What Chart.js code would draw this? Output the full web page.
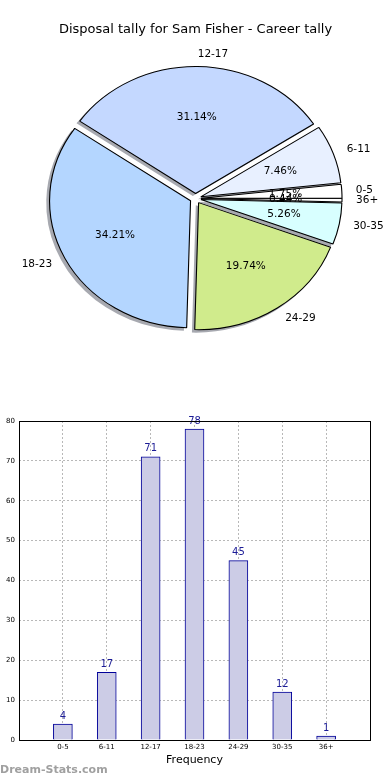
<!DOCTYPE html>
<html lang="en">
<head>
    <meta charset="UTF-8">
    <title>Disposal tally for Sam Fisher</title>
    <style>
        body { margin: 0; background: #fff; width: 390px; height: 780px; position: relative; overflow: hidden; }
        #pieChart { position: absolute; left: 0; top: 0; }
        #barChart { position: absolute; left: 0; top: 400px; }
        .watermark { position: absolute; left: 0; top: 763px; font: bold 11px 'DejaVu Sans', sans-serif; color: #a0a0a0; }
    </style>
</head>
<body>
    <canvas id="pieChart" width="390" height="400"></canvas>
    <canvas id="barChart" width="390" height="380"></canvas>
    <div class="watermark">Dream-Stats.com</div>

    <script src="https://cdn.jsdelivr.net/npm/chart.js"></script>
    <script>
        // data
        const categories = ['0-5', '6-11', '12-17', '18-23', '24-29', '30-35', '36+'];
        const tally = [4, 17, 71, 78, 45, 12, 1];
        const sliceColors = ['#ffffff', '#e8f0ff', '#c4d8ff', '#b4d6ff', '#d0eb8c', '#d8ffff', '#ffffff'];

        Chart.defaults.font.family = "'DejaVu Sans', sans-serif";
        Chart.defaults.color = '#000';

        const total = tally.reduce((a, b) => a + b, 0);

        // matplotlib pie goes counter clockwise from east, chart.js clockwise -> reverse
        const pieLabels = categories.slice().reverse();
        const pieValues = tally.slice().reverse();
        const pieColors = sliceColors.slice().reverse();

        const EXPLODE = 5;     // wedge explode distance
        const STRETCH = 1.11;  // pie is an ellipse (axes not equal)
        const SHADOW = 2.5;

        const mplPie = {
            id: 'mplPie',
            beforeDatasetsDraw(chart) {
                const ctx = chart.ctx;
                const arcs = chart.getDatasetMeta(0).data;
                const cx = arcs[0].x, cy = arcs[0].y;

                ctx.save();
                ctx.translate(cx, 0);
                ctx.scale(STRETCH, 1);
                ctx.translate(-cx, 0);

                // shadows first, under every wedge
                ctx.fillStyle = 'rgba(60,65,80,0.45)';
                arcs.forEach(arc => {
                    const mid = (arc.startAngle + arc.endAngle) / 2;
                    const x = arc.x + Math.cos(mid) * EXPLODE - SHADOW;
                    const y = arc.y + Math.sin(mid) * EXPLODE + SHADOW;
                    ctx.beginPath();
                    ctx.moveTo(x, y);
                    ctx.arc(x, y, arc.outerRadius + 0.5, arc.startAngle, arc.endAngle);
                    ctx.closePath();
                    ctx.fill();
                });

                // wedges
                arcs.forEach(arc => {
                    const mid = (arc.startAngle + arc.endAngle) / 2;
                    ctx.save();
                    ctx.translate(Math.cos(mid) * EXPLODE, Math.sin(mid) * EXPLODE);
                    arc.draw(ctx);
                    ctx.restore();
                });
                ctx.restore();

                // labels
                ctx.save();
                ctx.font = "10.5px 'DejaVu Sans'";
                ctx.fillStyle = '#000';
                ctx.textBaseline = 'middle';
                arcs.forEach((arc, i) => {
                    const mid = (arc.startAngle + arc.endAngle) / 2;
                    const c = Math.cos(mid), s = Math.sin(mid);
                    const r = arc.outerRadius;
                    ctx.textAlign = c > 0 ? 'left' : 'right';
                    ctx.fillText(pieLabels[i], cx + STRETCH * c * (EXPLODE + 1.1 * r), cy + s * (EXPLODE + 1.1 * r));
                    ctx.textAlign = 'center';
                    const pct = (pieValues[i] / total * 100).toFixed(2) + '%';
                    ctx.fillText(pct, cx + STRETCH * c * (EXPLODE + 0.6 * r), cy + s * (EXPLODE + 0.6 * r));
                });
                ctx.restore();
                return false;
            }
        };

        new Chart(document.getElementById('pieChart'), {
            type: 'pie',
            data: {
                labels: pieLabels,
                datasets: [{
                    data: pieValues,
                    backgroundColor: pieColors,
                    borderColor: '#000',
                    borderWidth: 1,
                    clip: false
                }]
            },
            options: {
                responsive: false,
                animation: false,
                rotation: 90,
                radius: 127,
                layout: { padding: { top: 0, bottom: 43, left: 1, right: 0 } },
                plugins: {
                    legend: { display: false },
                    tooltip: { enabled: false },
                    title: {
                        display: true,
                        text: 'Disposal tally for Sam Fisher - Career tally',
                        color: '#000',
                        font: { size: 13, weight: 'normal' },
                        padding: { top: 22, bottom: 2.4 }
                    }
                }
            },
            plugins: [mplPie]
        });

        // bar chart -------------------------------------------------
        const barLabels = [''].concat(categories, ['']);
        const barValues = [null].concat(tally, [null]);

        const barValueLabels = {
            id: 'barValueLabels',
            afterDatasetsDraw(chart) {
                const ctx = chart.ctx;
                const meta = chart.getDatasetMeta(0);
                ctx.save();
                ctx.font = "10px 'DejaVu Sans'";
                ctx.fillStyle = '#1c1c96';
                ctx.textAlign = 'center';
                ctx.textBaseline = 'bottom';
                meta.data.forEach((bar, i) => {
                    const v = barValues[i];
                    if (v == null) return;
                    ctx.fillText(v, bar.x, bar.y - 3);
                });
                ctx.restore();
            }
        };

        const frame = {
            id: 'frame',
            afterDraw(chart) {
                const a = chart.chartArea;
                const ctx = chart.ctx;
                ctx.save();
                ctx.strokeStyle = '#000';
                ctx.lineWidth = 1;
                ctx.strokeRect(Math.round(a.left) + 0.5, Math.round(a.top) + 0.5,
                    Math.round(a.right - a.left), Math.round(a.bottom - a.top));
                ctx.restore();
            }
        };

        new Chart(document.getElementById('barChart'), {
            type: 'bar',
            data: {
                labels: barLabels,
                datasets: [{
                    data: barValues,
                    backgroundColor: '#ccccE6',
                    borderColor: '#000099',
                    borderWidth: 1,
                    barThickness: 19
                }]
            },
            options: {
                responsive: false,
                animation: false,
                layout: { padding: { top: 21, right: 20, left: 0, bottom: 0 } },
                plugins: { legend: { display: false }, tooltip: { enabled: false } },
                scales: {
                    x: {
                        offset: false,
                        z: 1,
                        grid: { color: '#b8b8b8', lineWidth: 1, drawTicks: false, offset: false },
                        border: { display: false, dash: [2, 2] },
                        ticks: { font: { size: 7 }, color: '#000', padding: 3, autoSkip: false, maxRotation: 0 },
                        title: { display: true, text: 'Frequency', color: '#000', font: { size: 11 }, padding: { top: 0, bottom: 13 } },
                        afterFit(scale) { scale.height = 40; }
                    },
                    y: {
                        min: 0,
                        max: 80,
                        z: 1,
                        grid: { color: '#b8b8b8', lineWidth: 1, drawTicks: false },
                        border: { display: false, dash: [2, 2] },
                        ticks: { stepSize: 10, font: { size: 7 }, color: '#000', padding: 4 },
                        afterFit(scale) { scale.width = 19; }
                    }
                }
            },
            plugins: [barValueLabels, frame]
        });
    </script>
</body>
</html>
